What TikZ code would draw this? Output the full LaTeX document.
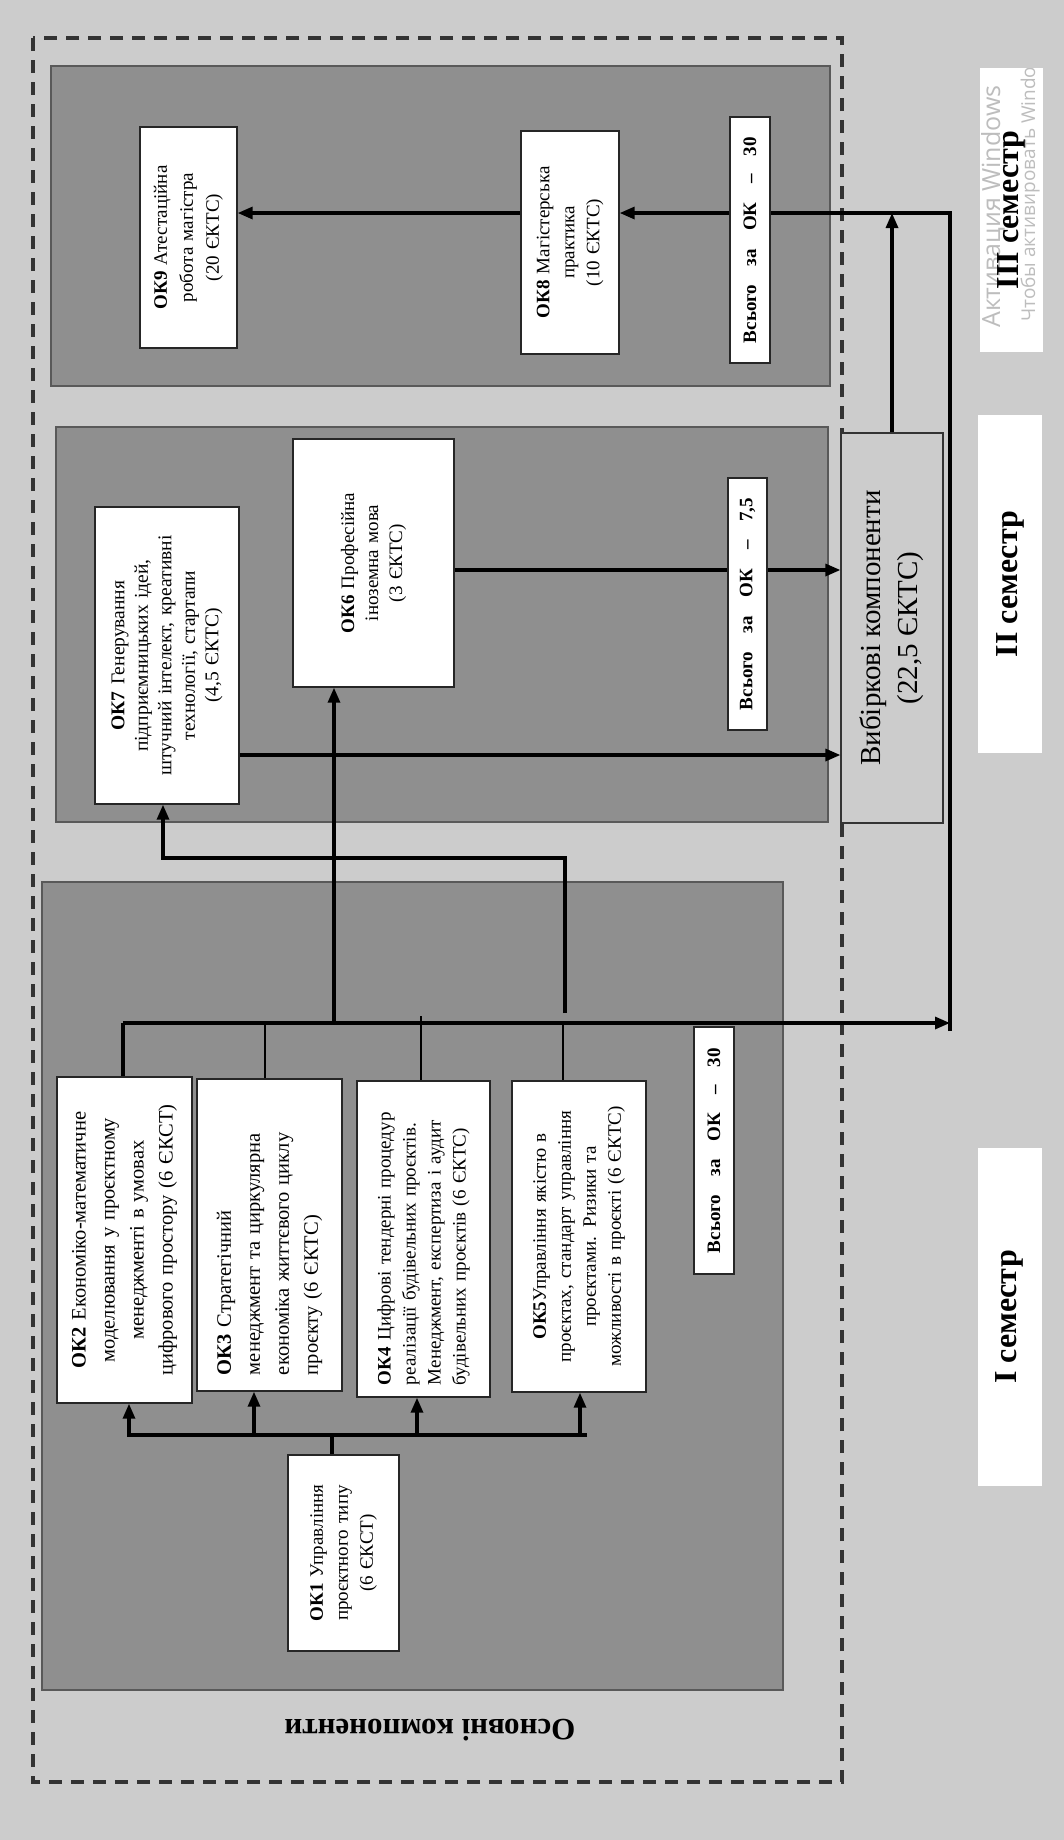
\documentclass[tikz,border=0pt]{standalone}
\usepackage{fontspec}
\setmainfont{Liberation Serif}
\newfontfamily\wmfont{Open Sans}
\usetikzlibrary{arrows.meta}
\definecolor{bgc}{gray}{0.80}
\definecolor{panelc}{gray}{0.56}
\definecolor{wmc}{gray}{0.74}
\begin{document}
\begin{tikzpicture}[x=1pt,y=-1pt,
  arr/.style={-{Triangle[length=15pt,width=12pt]}, line width=3.2pt},
  thk/.style={line width=3.2pt},
  thn/.style={line width=1.5pt},
  panel/.style={fill=panelc, draw=black!65, line width=1.2pt},
  okbox/.style={draw=black!85, line width=1.4pt, fill=white, rotate=90, inner sep=0pt, align=center},
  totbox/.style={draw=black!85, line width=1.4pt, fill=white, rotate=90, inner sep=0pt, font=\bfseries\fontsize{19}{22}\selectfont},
  semfill/.style={fill=white, draw=none, rotate=90, inner sep=0pt},
  semtxt/.style={rotate=90, font=\bfseries\fontsize{32}{36}\selectfont},
  dashbox/.style={draw=black!80, line width=3.2pt, dash pattern=on 13pt off 9pt}
]
% background
\fill[bgc] (0,0) rectangle (1064,1840);
\useasboundingbox (0,0) rectangle (1064,1840);

% outer dashed frame
\draw[dashbox] (33,38) rectangle (842,1782);

% semester panels
\draw[panel] (51,66) rectangle (830,386);
\draw[panel] (56,427) rectangle (828,822);
\draw[panel] (42,882) rectangle (783,1690);

% semester labels (white fields)
\node[semfill, minimum width=338pt, minimum height=64pt] (s1) at (1009.5,1317) {};
\node[semfill, minimum width=338pt, minimum height=64pt] (s2) at (1010,584) {};
\node[semfill, minimum width=284pt, minimum height=63pt] (s3) at (1011.5,210) {};
\begin{scope}
  \clip (980,68) rectangle (1043,352);
  \node[rotate=90, anchor=west, text=wmc, font=\wmfont\fontsize{25}{28}\selectfont, inner sep=0pt] (wm1) at (993,328) {Активация Windows};
  \node[rotate=90, anchor=west, text=wmc, font=\wmfont\fontsize{19}{22}\selectfont, inner sep=0pt] (wm2) at (1030,322) {Чтобы активировать Windows};
\end{scope}
\node[semtxt] (t1) at (s1) {I семестр};
\node[semtxt] (t2) at (s2) {II семестр};
\node[semtxt] (t3) at (s3) {III семестр};

% III semester boxes
\node[okbox, minimum width=221pt, minimum height=97pt, text width=205pt, font=\fontsize{19}{26}\selectfont] (ok9) at (188.5,237.5)
  {\textbf{ОК9} Атестаційна\\робота магістра\\(20 ЄКТС)};
\node[okbox, minimum width=223pt, minimum height=98pt, text width=205pt, font=\fontsize{19}{25}\selectfont] (ok8) at (570,242.5)
  {\textbf{ОК8} Магістерська\\практика\\(10 ЄКТС)};

% II semester boxes
\node[okbox, minimum width=297pt, minimum height=144pt, text width=285pt, font=\fontsize{19.5}{23.5}\selectfont] (ok7) at (167,655.5)
  {\textbf{ОК7} Генерування\\підприємницьких ідей,\\штучний інтелект, креативні\\технології, стартапи\\(4,5 ЄКТС)};
\node[okbox, minimum width=248pt, minimum height=161pt, text width=230pt, font=\fontsize{19}{24}\selectfont] (ok6) at (373.5,563)
  {\textbf{ОК6} Професійна\\іноземна мова\\(3 ЄКТС)};
\node[draw=black!80, line width=1.2pt, fill=bgc, rotate=90, inner sep=0pt, align=center,
      minimum width=390pt, minimum height=102pt, font=\fontsize{29}{37}\selectfont] (vyb) at (892,628)
  {Вибіркові компоненти\\(22,5 ЄКТС)};

% I semester boxes
\node[okbox, minimum width=326pt, minimum height=135pt, text width=305pt, font=\fontsize{20.5}{29}\selectfont] (ok2) at (124.5,1240)
  {\textbf{ОК2} Економіко-математичне\\моделювання у проєктному\\менеджменті в умовах\\цифрового простору (6 ЄКСТ)};
\node[okbox, align=left, minimum width=312pt, minimum height=145pt, text width=280pt, font=\fontsize{20.5}{29}\selectfont] (ok3) at (269.5,1235)
  {\textbf{ОК3} Стратегічний\\менеджмент та циркулярна\\економіка життєвого циклу\\проєкту (6 ЄКТС)};
\node[okbox, align=left, minimum width=316pt, minimum height=133pt, text width=292pt, font=\fontsize{19}{25}\selectfont] (ok4) at (423.5,1239)
  {\textbf{ОК4} Цифрові тендерні процедур\\реалізації будівельних проєктів.\\Менеджмент, експертиза і аудит\\будівельних проєктів (6 ЄКТС)};
\node[okbox, minimum width=311pt, minimum height=134pt, text width=295pt, font=\fontsize{19}{25}\selectfont] (ok5) at (579,1236.5)
  {\textbf{ОК5}Управління якістю в\\проєктах, стандарт управління\\проєктами. Ризики та\\можливості в проєкті (6 ЄКТС)};
\node[okbox, minimum width=196pt, minimum height=111pt, text width=185pt, font=\fontsize{19}{25}\selectfont] (ok1) at (343.5,1553)
  {\textbf{ОК1} Управління\\проєктного типу\\(6 ЄКСТ)};

% connector coordinates
\coordinate (b1c) at (332,1435);
\coordinate (b1R) at (587,1435);
\coordinate (a2) at (129,1435);
\coordinate (a3) at (254,1435);
\coordinate (a4) at (417,1435);
\coordinate (a5) at (580,1435);
\coordinate (m0) at (123,1023);
\coordinate (m3) at (265,1023);
\coordinate (m4) at (421,1016);
\coordinate (m5) at (563,1023);
\coordinate (m6) at (334,1023);
\coordinate (m7) at (565,1013);
\coordinate (k7) at (565,858);
\coordinate (k7L) at (163,858);
\coordinate (rv) at (950,1031);
\coordinate (rt) at (950,213);
\coordinate (vy6) at (0,570);
\coordinate (vy7) at (0,755);

% OK1 -> OK2..OK5
\draw[thk] (b1c |- ok1.east) -- (b1c);
\draw[arr] (b1R) -- (a2) -- (a2 |- ok2.west);
\draw[arr] (a3) -- (a3 |- ok3.west);
\draw[arr] (a4) -- (a4 |- ok4.west);
\draw[arr] (a5) -- (a5 |- ok5.west);

% main bus
\draw[line width=4pt] (m0 |- ok2.east) -- (m0);
\draw[arr] (m0) -- (rv |- m0);
\draw[thn] (m3) -- (m3 |- ok3.east);
\draw[thn] (m4) -- (m4 |- ok4.east);
\draw[thn] (m5) -- (m5 |- ok5.east);
\draw[arr] (m6) -- (m6 |- ok6.west);
\draw[arr] (m7) -- (k7) -- (k7L) -- (k7L |- ok7.west);

% to elective components
\draw[arr] (ok7.south |- vy7) -- (vyb.north |- vy7);
\draw[arr] (ok6.south |- vy6) -- (vyb.north |- vy6);
\draw[arr] (vyb.east) -- (vyb.east |- rt);

% right riser to III semester
\draw[arr] (rv) -- (rt) -- (ok8.south |- rt);
\draw[arr] (ok8.north |- rt) -- (ok9.south |- rt);

% totals
\node[totbox, minimum width=246pt, minimum height=40pt] (tot3) at (750,240)
  {\hbox to 206pt{Всього\hfill за\hfill ОК\hfill –\hfill 30}};
\node[totbox, minimum width=252pt, minimum height=39pt] (tot2) at (747.5,604)
  {\hbox to 212pt{Всього\hfill за\hfill ОК\hfill –\hfill 7,5}};
\node[totbox, minimum width=247pt, minimum height=40pt] (tot1) at (714,1150.5)
  {\hbox to 205pt{Всього\hfill за\hfill ОК\hfill –\hfill 30}};

% panel caption
\node[rotate=180, font=\bfseries\fontsize{31}{36}\selectfont] (osn) at (430,1730) {Основні компоненти};
\end{tikzpicture}
\end{document}
